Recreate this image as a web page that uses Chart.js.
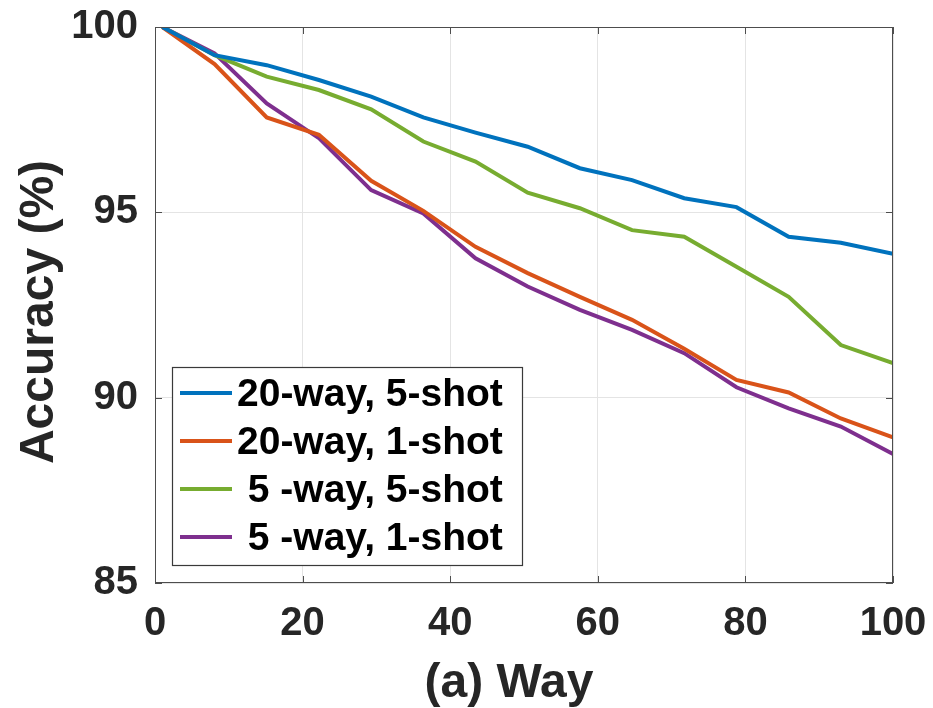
<!DOCTYPE html>
<html>
<head>
<meta charset="utf-8">
<script src="https://cdn.jsdelivr.net/npm/chart.js@4.4.0/dist/chart.umd.min.js"></script>
<style>
  html, body { margin: 0; padding: 0; background: #fff; }
  #wrap { width: 933px; height: 708px; }
</style>
</head>
<body>
<div id="wrap"><canvas id="accChart" width="933" height="708"></canvas></div>
<script>
// Eje X: número de clases (way)
const ways = [1, 8.07, 15.14, 22.21, 29.29, 36.36, 43.43, 50.5, 57.57, 64.64, 71.71, 78.79, 85.86, 92.93, 100];

// Precisión (%) por configuración
const acc20w5s = [100, 99.24, 98.97, 98.57, 98.12, 97.56, 97.15, 96.77, 96.19, 95.87, 95.38, 95.14, 94.34, 94.18, 93.88];
const acc20w1s = [100, 99.0, 97.56, 97.09, 95.85, 95.04, 94.07, 93.36, 92.72, 92.1, 91.32, 90.48, 90.14, 89.44, 88.93];
const acc5w5s  = [100, 99.24, 98.66, 98.3, 97.78, 96.91, 96.37, 95.53, 95.11, 94.52, 94.34, 93.53, 92.72, 91.42, 90.93];
const acc5w1s  = [100, 99.29, 97.94, 97.0, 95.6, 94.97, 93.76, 93.0, 92.37, 91.83, 91.2, 90.28, 89.71, 89.22, 88.48];

const seriesLabels = ['20-way, 5-shot', '20-way, 1-shot', ' 5 -way, 5-shot', ' 5 -way, 1-shot'];
const seriesColors = ['#0072BD', '#D95319', '#77AC30', '#7E2F8E'];
const xTicks = [0, 20, 40, 60, 80, 100];
const yTicks = [85, 90, 95, 100];

const FONT = '"Liberation Sans", Arial, Helvetica, sans-serif';
const TEXT = '#262626';
const AXIS = '#4d4d4d';

const allSeries = [acc20w5s, acc20w1s, acc5w5s, acc5w1s];

// Marco estilo MATLAB: caja, marcas hacia dentro, leyenda y títulos
const matlabFrame = {
  id: 'matlabFrame',
  afterDatasetsDraw(chart) {
    const { ctx, chartArea: a, scales: { x, y } } = chart;
    ctx.save();

    // caja
    ctx.strokeStyle = AXIS;
    ctx.lineWidth = 1;
    ctx.strokeRect(a.left + 0.5, a.top + 0.5, a.right - a.left - 1, a.bottom - a.top - 1);

    // marcas
    ctx.beginPath();
    xTicks.forEach(v => {
      const px = Math.round(x.getPixelForValue(v)) + 0.5;
      ctx.moveTo(px, a.bottom); ctx.lineTo(px, a.bottom - 7);
      ctx.moveTo(px, a.top); ctx.lineTo(px, a.top + 7);
    });
    yTicks.forEach(v => {
      const py = Math.round(y.getPixelForValue(v)) + 0.5;
      ctx.moveTo(a.left, py); ctx.lineTo(a.left + 7, py);
      ctx.moveTo(a.right, py); ctx.lineTo(a.right - 7, py);
    });
    ctx.stroke();

    // leyenda
    const lx = 172, ly = 367, lw = 350, lh = 198;
    ctx.fillStyle = '#fff';
    ctx.fillRect(lx, ly, lw, lh);
    ctx.strokeStyle = '#3a3a3a';
    ctx.lineWidth = 1.2;
    ctx.strokeRect(lx + 0.5, ly + 0.5, lw, lh);
    const rows = [393, 441, 489, 537];
    ctx.font = 'bold 39px ' + FONT;
    ctx.textBaseline = 'middle';
    ctx.textAlign = 'left';
    chart.data.datasets.forEach((ds, i) => {
      ctx.strokeStyle = ds.borderColor;
      ctx.lineWidth = 4;
      ctx.beginPath();
      ctx.moveTo(180, rows[i]); ctx.lineTo(232, rows[i]);
      ctx.stroke();
      ctx.fillStyle = '#000';
      ctx.fillText(ds.label, 237, rows[i] + 2);
    });

    // títulos de ejes
    ctx.fillStyle = TEXT;
    ctx.font = 'bold 48px ' + FONT;
    ctx.textAlign = 'center';
    ctx.textBaseline = 'middle';
    ctx.fillText('(a) Way', 509, 684);
    ctx.translate(40, 312);
    ctx.rotate(-Math.PI / 2);
    ctx.fillText('Accuracy (%)', 0, 0);

    ctx.restore();
  }
};

new Chart(document.getElementById('accChart'), {
  type: 'line',
  data: {
    datasets: allSeries.map((vals, i) => ({
      label: seriesLabels[i],
      data: vals.map((v, j) => ({ x: ways[j], y: v })),
      borderColor: seriesColors[i],
      backgroundColor: seriesColors[i],
      borderWidth: 4,
      pointRadius: 0,
      tension: 0,
      fill: false,
    }))
  },
  options: {
    responsive: false,
    animation: false,
    layout: { padding: { top: 27, right: 40, left: 0, bottom: 0 } },
    plugins: {
      legend: { display: false },
      tooltip: { enabled: false },
    },
    scales: {
      x: {
        type: 'linear',
        min: 0,
        max: 100,
        afterBuildTicks: s => { s.ticks = xTicks.map(v => ({ value: v })); },
        afterFit: s => { s.height = 125; s.paddingLeft = 0; s.paddingRight = 0; },
        grid: { color: '#e4e4e4', lineWidth: 1, drawTicks: false },
        border: { display: false },
        ticks: {
          autoSkip: false,
          maxRotation: 0,
          padding: 17,
          color: TEXT,
          font: { family: FONT, size: 40, weight: 'bold' },
        },
      },
      y: {
        min: 85,
        max: 100,
        afterBuildTicks: s => { s.ticks = yTicks.map(v => ({ value: v })); },
        afterFit: s => { s.width = 155; s.paddingTop = 0; s.paddingBottom = 0; },
        grid: { color: '#e4e4e4', lineWidth: 1, drawTicks: false },
        border: { display: false },
        ticks: {
          padding: 17,
          color: TEXT,
          font: { family: FONT, size: 40, weight: 'bold' },
        },
      },
    },
  },
  plugins: [matlabFrame],
});
</script>
</body>
</html>
